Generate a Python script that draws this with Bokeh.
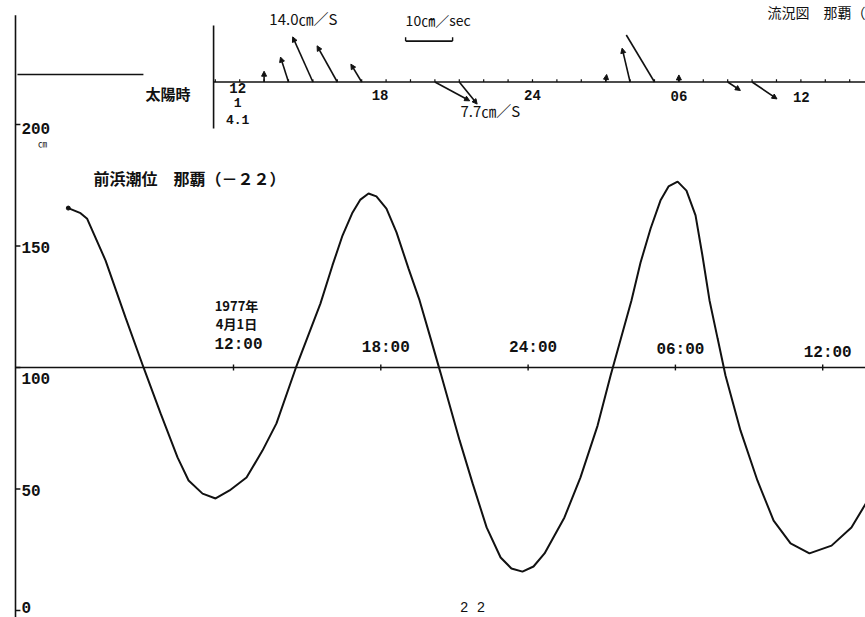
from bokeh.plotting import figure
from bokeh.models import Range1d, ColumnDataSource, Arrow, NormalHead
from bokeh.core.properties import value
from bokeh.embed import file_html
from bokeh.resources import INLINE

# ---------------- data ----------------
# tide level at Maehama (cm) vs. hours from 1977-04-01 00:00
tide_hour = [5.27, 5.77, 6.04, 6.79, 7.60, 8.35, 9.03, 9.72, 10.17, 10.74,
             11.27, 11.84, 12.53, 13.18, 13.75, 14.53, 15.54, 16.03, 16.44, 16.85,
             17.17, 17.50, 17.82, 18.23, 18.64, 19.13, 19.58, 20.02, 20.43, 21.21,
             21.74, 22.31, 22.88, 23.32, 23.77, 24.22, 24.67, 25.48, 26.13, 26.83,
             27.36, 28.21, 28.58, 28.99, 29.39, 29.72, 30.09, 30.45, 30.82, 31.10,
             31.39, 31.72, 32.04, 32.65, 33.34, 34.00, 34.69, 35.46, 36.36, 37.17,
             37.78]
tide_cm = [165.6, 163.5, 161.2, 144.0, 120.6, 99.6, 81.1, 63.0, 53.5, 48.1,
           46.1, 49.4, 54.7, 65.8, 77.0, 99.6, 126.3, 142.0, 154.3, 163.8,
           169.1, 171.6, 170.4, 165.4, 155.6, 140.7, 127.6, 112.3, 97.9, 70.0,
           52.3, 34.2, 21.8, 17.3, 16.0, 18.1, 23.5, 38.3, 54.7, 76.1,
           96.7, 127.6, 143.2, 157.2, 168.7, 174.5, 176.5, 172.8, 162.6, 146.1,
           127.6, 111.9, 96.7, 74.1, 53.5, 37.0, 27.6, 23.5, 26.7, 34.2,
           44.4]

y_ticks = [200, 150, 100, 50, 0]
y_tick_labels = ["200", "150", "100", "50", "0"]

time_ticks = [12, 18, 24, 30, 36]
time_labels = ["12:00", "18:00", "24:00", "06:00", "12:00"]

sun_ticks = [12, 18, 24, 30, 36]
sun_labels = ["12", "18", "24", "06", "12"]
sun_hours_minor = list(range(11, 38))

# tidal current vectors (cm/s), hourly
cur_hour = [13, 14, 15, 16, 17, 20, 21, 27, 28, 29, 30, 32, 33]
cur_u = [0.0, -1.7, -4.3, -4.3, -2.3, 7.4, 3.8, 0.2, -1.7, -6.0, 0.0, 2.7, 5.3]
cur_v = [2.3, 5.3, 9.6, 7.7, 3.8, -4.0, -4.7, 1.6, 7.2, 10.0, 1.5, -1.8, -3.6]
cur_head = [1, 1, 1, 1, 1, 1, 1, 1, 1, 0, 1, 1, 1]

scale_cms = 10.0
scale_start_hour = 18.8

axis_hour = 3.12
sun_axis_hour = 10.93

# ---------------- figure ----------------
W, H = 865, 617
X_MAX = 37.743
p = figure(width=W, height=H, x_range=Range1d(2.509, X_MAX), y_range=Range1d(-2.881, 251.029),
           output_backend="svg", toolbar_location=None, min_border=0,
           x_axis_location=None, y_axis_location=None)
p.grid.visible = False
p.outline_line_color = None
p.background_fill_color = "white"
p.border_fill_color = "white"
TOP_MAX = 37.648
p.extra_x_ranges = {"top": Range1d(2.197, TOP_MAX)}
p.extra_y_ranges = {"vel": Range1d(-113.936, 17.340)}

H_PER_CMS = 0.1926   # hours on the top axis per 1 cm/s of arrow length

MONO = value("Liberation Mono")
CJK = value("Noto Sans CJK JP")
INK = "#111111"

# main vertical axis and ticks
p.segment(x0=[axis_hour], y0=[245.0], x1=[axis_hour], y1=[-2.881], line_color=INK, line_width=1.6)
p.segment(x0=[axis_hour] * len(y_ticks), y0=y_ticks, x1=[axis_hour + 0.2] * len(y_ticks), y1=y_ticks,
          line_color=INK, line_width=1.4)
ysrc = ColumnDataSource(dict(x=[axis_hour + 0.24] * len(y_ticks), y=y_ticks, t=y_tick_labels,
                             dy=[4, 2, 11, 2, -3]))
p.text(x="x", y="y", text="t", y_offset="dy", source=ysrc, text_font=MONO, text_font_size=value("16px"),
       text_font_style="bold", text_baseline="middle", text_align="left", text_color=INK)
p.text(x=[4.22], y=[200], text=["㎝"], y_offset=[19], text_font=CJK, text_font_size=value("9px"),
       text_baseline="middle", text_align="center", text_color=INK)

# horizontal time axis at 100 cm
p.segment(x0=[axis_hour], y0=[100], x1=[X_MAX], y1=[100], line_color=INK, line_width=1.6)
p.segment(x0=time_ticks, y0=[98.8] * 5, x1=time_ticks, y1=[101.2] * 5, line_color=INK, line_width=1.4)
tsrc = ColumnDataSource(dict(x=time_ticks, y=[100] * 5, t=time_labels, dy=[-22, -19, -19, -17, -14]))
p.text(x="x", y="y", text="t", source=tsrc, x_offset=5, y_offset="dy", text_font=MONO,
       text_font_size=value("16px"), text_font_style="bold", text_baseline="middle",
       text_align="center", text_color=INK)

# date label
p.text(x=[12, 12], y=[100, 100], text=["1977年", "4月1日"], x_offset=[3, 3], y_offset=[-62, -44],
       text_font=CJK, text_font_size=value("13px"), text_font_style="bold", text_baseline="middle",
       text_align="center", text_color=INK)

# title of tide panel
p.text(x=[6.30], y=[177.8], text=["前浜潮位　那覇（－２２）"], text_font=CJK, text_font_size=value("16px"),
       text_font_style="bold", text_baseline="middle", text_align="left", text_color=INK)

# tide curve
p.line(tide_hour, tide_cm, line_color=INK, line_width=2.0)
p.scatter([tide_hour[0]], [tide_cm[0]], size=4, color=INK)

# ---- current panel (top) ----
p.segment(x0=[3.20], y0=[220.6], x1=[8.33], y1=[220.6], line_color=INK, line_width=1.6)
p.text(x=[10.25], y=[212.8], text=["太陽時"], text_font=CJK, text_font_size=value("15px"),
       text_font_style="bold", text_baseline="middle", text_align="right", text_color=INK)

p.segment(x0=[sun_axis_hour], y0=[12.0], x1=[sun_axis_hour], y1=[-9.9], x_range_name="top",
          y_range_name="vel", line_color=INK, line_width=1.6)
p.segment(x0=[sun_axis_hour], y0=[0], x1=[TOP_MAX], y1=[0], x_range_name="top", y_range_name="vel",
          line_color=INK, line_width=1.6)
p.segment(x0=sun_hours_minor, y0=[0] * len(sun_hours_minor), x1=sun_hours_minor,
          y1=[0.6] * len(sun_hours_minor), x_range_name="top", y_range_name="vel",
          line_color=INK, line_width=1.2)

ssrc = ColumnDataSource(dict(x=sun_ticks, y=[0] * 5, t=sun_labels, dx=[-2, -6, 0, 0, -24],
                             dy=[6, 13, 13, 14, 15]))
p.text(x="x", y="y", text="t", source=ssrc, x_offset="dx", y_offset="dy", x_range_name="top",
       y_range_name="vel", text_font=MONO, text_font_size=value("14px"), text_font_style="bold",
       text_baseline="middle", text_align="center", text_color=INK)
p.text(x=[12, 12], y=[0, 0], text=["1", "4.1"], x_offset=[-2, -2], y_offset=[21, 38], x_range_name="top",
       y_range_name="vel", text_font=MONO, text_font_size=value("13px"), text_font_style="bold",
       text_baseline="middle", text_align="center", text_color=INK)

# current arrows
hx0, hy0, hx1, hy1 = [], [], [], []
nx0, ny0, nx1, ny1 = [], [], [], []
for h, u, v, hd in zip(cur_hour, cur_u, cur_v, cur_head):
    if hd:
        hx0.append(h); hy0.append(0); hx1.append(h + u * H_PER_CMS); hy1.append(v)
    else:
        nx0.append(h); ny0.append(0); nx1.append(h + u * H_PER_CMS); ny1.append(v)
asrc = ColumnDataSource(dict(x0=hx0, y0=hy0, x1=hx1, y1=hy1))
p.add_layout(Arrow(end=NormalHead(size=5, fill_color=INK, line_color=INK, line_width=1),
                   x_start="x0", y_start="y0", x_end="x1", y_end="y1", source=asrc,
                   line_color=INK, line_width=1.6, x_range_name="top", y_range_name="vel"))
p.segment(x0=nx0, y0=ny0, x1=nx1, y1=ny1, x_range_name="top", y_range_name="vel",
          line_color=INK, line_width=1.6)

# scale bar for 10 cm/sec
sb_end = scale_start_hour + scale_cms * H_PER_CMS
p.segment(x0=[scale_start_hour], y0=[8.7], x1=[sb_end], y1=[8.7], x_range_name="top",
          y_range_name="vel", line_color=INK, line_width=1.6)
p.segment(x0=[scale_start_hour, sb_end], y0=[8.7, 8.7], x1=[scale_start_hour, sb_end], y1=[9.5, 9.5],
          x_range_name="top", y_range_name="vel", line_color=INK, line_width=1.4)

# labels of the current panel
p.text(x=[14.61], y=[243.6], text=["14.0㎝／S"], x_range_name="top", text_font=CJK,
       text_font_size=value("15px"), text_baseline="middle", text_align="center", text_color=INK)
p.text(x=[scale_start_hour], y=[242.8], text=["10㎝／sec"], x_range_name="top", text_font=CJK,
       text_font_size=value("14px"), text_baseline="middle", text_align="left", text_color=INK)
p.text(x=[21.05], y=[205.8], text=["7.7㎝／S"], x_range_name="top", text_font=CJK,
       text_font_size=value("15px"), text_baseline="middle", text_align="left", text_color=INK)

# heading at top right and page number at bottom
p.text(x=[X_MAX], y=[250.6], text=["流況図　那覇（"], text_font=CJK, text_font_size=value("14px"),
       text_baseline="top", text_align="right", text_color=INK)
p.text(x=[21.74], y=[0], y_offset=[6], text=["2 2"], text_font=MONO, text_font_size=value("14px"),
       text_baseline="bottom", text_align="center", text_color=INK)

open("out.html", "w").write(file_html(p, INLINE))
